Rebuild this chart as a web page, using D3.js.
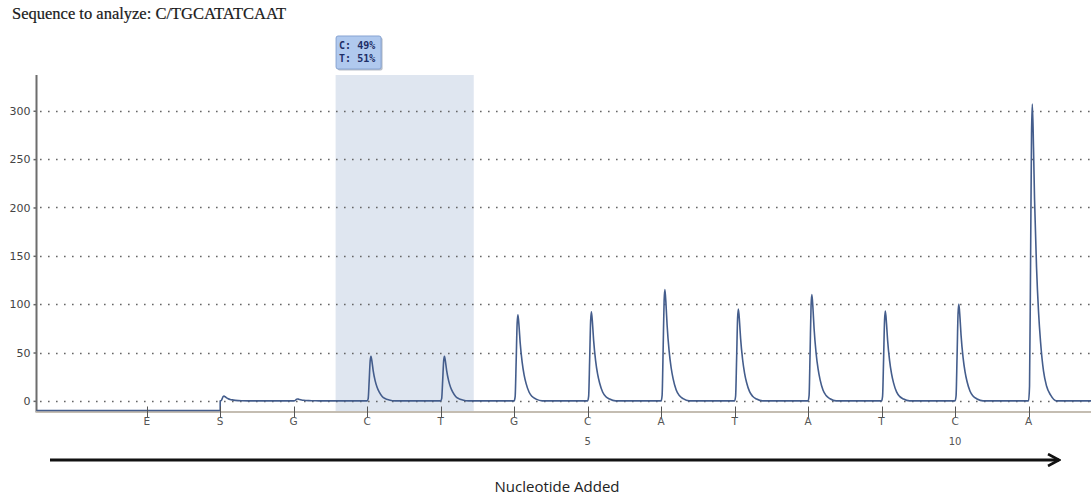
<!DOCTYPE html>
<html>
<head>
<meta charset="utf-8">
<script src="https://cdn.jsdelivr.net/npm/d3@7"></script>
<style>
  html, body { margin: 0; padding: 0; background: #fff; }
  svg { display: block; }
</style>
</head>
<body>
<svg id="chart" width="1091" height="499"></svg>
<script>
// ---------------- data ----------------
const title = "Sequence to analyze: C/TGCATATCAAT";
const dispensations = ["E", "S", "G", "C", "T", "G", "C", "A", "T", "A", "T", "C", "A"];
const dispensationNumbers = ["", "", "", "", "", "", "5", "", "", "", "", "10", ""];
const peakHeights = [0, 5, 2, 46, 46, 89, 92, 115, 95, 110, 93, 100, 307];
const preSubstrateLevel = -10;
const yTicks = [0, 50, 100, 150, 200, 250, 300];
// peak profile: offset after dispensation (in dispensation units) and fraction of height
const profileOffsets = [0, 0.0136, 0.0272, 0.0408, 0.0517, 0.068, 0.0816, 0.1088, 0.136, 0.163, 0.204, 0.245, 0.299, 0.381];
const profileFractions = [0, 0.05, 0.45, 0.9, 1, 0.85, 0.68, 0.45, 0.3, 0.2, 0.1, 0.05, 0.02, 0];
const highlightRange = [2.57, 4.45];
const highlightLabel = ["C: 49%", "T: 51%"];
const xAxisTitle = "Nucleotide Added";
const xDomain = [-1.5, 12.85];
const yDomain = [-11, 337];

// ---------------- layout ----------------
const svg = d3.select("#chart");
const x = d3.scaleLinear().domain(xDomain).range([36.5, 1091]);
const y = d3.scaleLinear().domain(yDomain).range([411.5, 75]);

// title
svg.append("text")
  .attr("x", 12).attr("y", 19)
  .attr("font-family", "'Liberation Serif', 'Times New Roman', serif")
  .attr("font-size", 16.5)
  .attr("fill", "#1a1a1a")
  .attr("stroke", "#1a1a1a").attr("stroke-width", 0.2)
  .text(title);

// highlight band
svg.append("rect")
  .attr("x", x(highlightRange[0]))
  .attr("y", y(yDomain[1]))
  .attr("width", x(highlightRange[1]) - x(highlightRange[0]))
  .attr("height", y(yDomain[0]) - y(yDomain[1]))
  .attr("fill", "#dfe6f0");

// label box above band
const lbx = x(highlightRange[0]) + 0.5, lby = 36;
svg.append("rect")
  .attr("x", lbx + 1.5).attr("y", lby + 1.5)
  .attr("width", 45).attr("height", 33).attr("rx", 2)
  .attr("fill", "#b9bfc9");
svg.append("rect")
  .attr("x", lbx).attr("y", lby)
  .attr("width", 45).attr("height", 33).attr("rx", 2)
  .attr("fill", "#b0c9ee").attr("stroke", "#86a3d2").attr("stroke-width", 1);
svg.selectAll("text.hl").data(highlightLabel).enter().append("text")
  .attr("class", "hl")
  .attr("x", lbx + 3)
  .attr("y", (d, i) => lby + 13 + i * 13)
  .attr("font-family", "'DejaVu Sans Mono', monospace")
  .attr("font-size", 10)
  .attr("font-weight", "bold")
  .attr("fill", "#1d2d66")
  .attr("xml:space", "preserve")
  .text(d => d);

// dotted gridlines
svg.append("g").selectAll("line").data(yTicks).enter().append("line")
  .attr("x1", 40).attr("x2", 1091)
  .attr("y1", d => Math.round(y(d)) + 0.5).attr("y2", d => Math.round(y(d)) + 0.5)
  .attr("stroke", "#666")
  .attr("stroke-width", 1.6)
  .attr("stroke-dasharray", "1.6,6.4");

// y axis
const yAxis = d3.axisLeft(y).tickValues(yTicks).tickSize(3).tickPadding(3);
const gy = svg.append("g").attr("transform", "translate(36.5,0)").call(yAxis);
gy.select(".domain").remove();
gy.selectAll(".tick line").attr("stroke", "#666").attr("stroke-width", 1.5);
gy.selectAll(".tick text")
  .attr("font-family", "'DejaVu Sans', sans-serif")
  .attr("font-size", 11)
  .attr("fill", "#444");
svg.append("line")
  .attr("x1", 36.5).attr("x2", 36.5)
  .attr("y1", y(yDomain[1])).attr("y2", y(yDomain[0]) + 1)
  .attr("stroke", "#6d6d6d").attr("stroke-width", 2);

// x axis line
svg.append("line")
  .attr("x1", 36).attr("x2", 1091)
  .attr("y1", y(yDomain[0]) + 0.5).attr("y2", y(yDomain[0]) + 0.5)
  .attr("stroke", "#c4bdb2").attr("stroke-width", 2);

// trace
const trace = [[xDomain[0], preSubstrateLevel], [1, preSubstrateLevel]];
for (let i = 1; i < peakHeights.length; i++) {
  profileOffsets.forEach((o, k) => trace.push([i + o, profileFractions[k] * peakHeights[i]]));
}
trace.push([xDomain[1], 0]);
const line = d3.line().x(d => x(d[0])).y(d => y(d[1])).curve(d3.curveMonotoneX);
svg.append("path")
  .attr("d", line(trace))
  .attr("fill", "none")
  .attr("stroke", "#445d8c")
  .attr("stroke-width", 1.6)
  .attr("stroke-linejoin", "round");

// x ticks and labels
const gx = svg.append("g");
gx.selectAll("line").data(dispensations).enter().append("line")
  .attr("x1", (d, i) => Math.round(x(i)) + 0.5).attr("x2", (d, i) => Math.round(x(i)) + 0.5)
  .attr("y1", y(yDomain[0]) - 5).attr("y2", y(yDomain[0]) + 6)
  .attr("stroke", "#555").attr("stroke-width", 1);
gx.selectAll("text.disp").data(dispensations).enter().append("text")
  .attr("class", "disp")
  .attr("x", (d, i) => x(i)).attr("y", 425)
  .attr("text-anchor", "middle")
  .attr("font-family", "'DejaVu Sans', sans-serif")
  .attr("font-size", 10.5)
  .attr("fill", "#555")
  .text(d => d);
gx.selectAll("text.num").data(dispensationNumbers).enter().append("text")
  .attr("class", "num")
  .attr("x", (d, i) => x(i)).attr("y", 445)
  .attr("text-anchor", "middle")
  .attr("font-family", "'DejaVu Sans', sans-serif")
  .attr("font-size", 10)
  .attr("fill", "#555")
  .text(d => d);

// arrow
svg.append("defs").append("marker")
  .attr("id", "arrowhead")
  .attr("viewBox", "0 0 14 14")
  .attr("refX", 12).attr("refY", 7)
  .attr("markerUnits", "userSpaceOnUse")
  .attr("markerWidth", 14).attr("markerHeight", 14)
  .attr("orient", "auto")
  .append("path")
  .attr("d", "M1,1 L12,7 L1,13")
  .attr("fill", "none").attr("stroke", "#111").attr("stroke-width", 2.6);
svg.append("line")
  .attr("x1", 50).attr("x2", 1059)
  .attr("y1", 460).attr("y2", 460)
  .attr("stroke", "#111").attr("stroke-width", 3)
  .attr("marker-end", "url(#arrowhead)");

svg.append("text")
  .attr("x", 557).attr("y", 492)
  .attr("text-anchor", "middle")
  .attr("font-family", "'Open Sans', 'Noto Sans', sans-serif")
  .attr("font-size", 15)
  .attr("fill", "#222")
  .text(xAxisTitle);
</script>
</body>
</html>
